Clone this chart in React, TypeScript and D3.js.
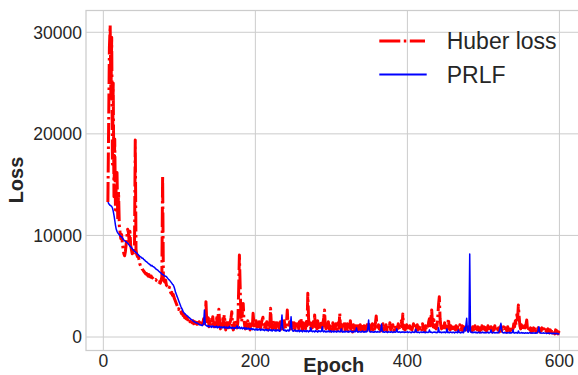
import React from 'react';
import * as d3 from 'd3';

// Loss per epoch, starting at epoch 6, one value per epoch up to epoch 600
const EPOCH_START = 6;

const huberLoss: number[] = [
  13300, 21000, 28500, 30700, 23500, 29500, 17000, 25000, 13800, 19500,
  12500, 15000, 16200, 11500, 14300, 11000, 10300, 9700, 10100, 9300,
  8700, 8200, 8000, 8400, 9100, 9900, 10600, 10300, 9400, 10400,
  9000, 8600, 8200, 8300, 8100, 8900, 19400, 8600, 8100, 7900,
  7900, 7600, 7200, 7000, 6900, 6700, 6600, 6500, 6400, 6300,
  6200, 6250, 6100, 6000, 6150, 5950, 5900, 6000, 5850, 5800,
  5700, 5750, 5600, 5650, 5550, 5500, 5600, 5400, 5450, 5300,
  5600, 5900, 15900, 5700, 5500, 5400, 5600, 5100, 5000, 4900,
  4700, 4900, 4500, 4300, 4400, 4100, 4200, 3900, 3700, 3500,
  3300, 3100, 2900, 2700, 2900, 2600, 2500, 2300, 2400, 2100,
  2200, 1900, 2000, 1800, 1900, 1700, 1600, 1800, 1500, 1700,
  1500, 1400, 1600, 1300, 1500, 1350, 1450, 1250, 1400, 1300,
  1500, 1200, 1350, 1600, 1250, 1400, 1800, 1300, 1500, 3480,
  1600, 1300, 1900, 1000, 1400, 1700, 1100, 1500, 2000, 1300,
  1000, 1600, 1400, 1900, 1100, 2100, 2730, 1400, 800, 1500,
  1300, 1800, 1000, 2170, 1600, 700, 1400, 1100, 1700, 900,
  1300, 1500, 1900, 2490, 1100, 700, 1400, 1000, 1600, 1300,
  900, 1500, 4500, 8080, 5000, 2000, 1500, 2500, 3310, 1700,
  1100, 800, 1400, 1000, 1600, 900, 1300, 700, 1500, 1100,
  900, 2330, 1400, 800, 1200, 1600, 1000, 1300, 700, 1500,
  1100, 900, 1400, 1700, 1940, 1000, 800, 1300, 900, 1500,
  1100, 700, 1400, 1000, 2830, 1300, 800, 1600, 900, 1200,
  1400, 800, 1100, 1670, 900, 1300, 700, 1500, 1000, 800,
  1300, 900, 1600, 1100, 800, 1400, 2660, 1000, 900, 1500,
  1100, 800, 1300, 1700, 900, 1400, 700, 1200, 1600, 900,
  1300, 800, 1500, 1000, 1800, 1100, 700, 1400, 900, 1300,
  800, 1500, 1100, 4300, 1800, 1000, 1400, 800, 1300, 900,
  1500, 1100, 2170, 1000, 1400, 800, 1600, 900, 1300, 700,
  1100, 1500, 900, 1400, 1900, 2660, 1100, 800, 1500, 1000,
  1500, 800, 1100, 600, 1200, 900, 1400, 700, 1000, 800,
  1300, 1100, 700, 1400, 900, 2330, 1000, 600, 1200, 800,
  1100, 1500, 700, 1000, 800, 1300, 600, 1100, 900, 1600,
  800, 1000, 500, 1200, 900, 700, 1100, 800, 1400, 600,
  1000, 800, 1200, 700, 1300, 900, 600, 1100, 800, 1000,
  700, 1200, 900, 1500, 800, 600, 1100, 900, 1300, 700,
  1000, 800, 1400, 2070, 900, 700, 1200, 800, 1000, 600,
  1100, 900, 1300, 700, 1000, 800, 1200, 600, 900, 1100,
  800, 1400, 700, 1000, 900, 1200, 600, 800, 1100, 700,
  1000, 800, 1300, 900, 700, 1100, 1600, 1000, 2270, 800,
  1100, 700, 900, 1200, 800, 1000, 600, 1100, 800, 900,
  700, 1000, 1300, 800, 1100, 600, 900, 1200, 700, 1000,
  800, 1100, 900, 700, 1300, 800, 1000, 600, 1100, 900,
  1200, 800, 1500, 1800, 1100, 1900, 2660, 1300, 1000, 1700,
  900, 1200, 800, 1100, 2000, 3200, 3970, 1800, 1100, 800,
  1300, 1000, 700, 1400, 900, 1100, 800, 1200, 1800, 900,
  700, 1100, 800, 1000, 600, 1200, 900, 700, 1100, 800,
  1000, 600, 900, 1200, 700, 800, 1100, 600, 1000, 800,
  900, 700, 1100, 800, 600, 1000, 700, 900, 800, 600,
  1000, 700, 800, 1100, 600, 900, 700, 1000, 800, 500,
  900, 700, 1100, 600, 800, 1000, 700, 900, 600, 800,
  1100, 700, 900, 600, 1000, 800, 500, 900, 700, 1100,
  600, 800, 1000, 700, 900, 500, 800, 1100, 600, 800,
  700, 1000, 600, 900, 800, 500, 1000, 700, 800, 600,
  900, 700, 1100, 800, 1300, 1000, 1600, 1200, 2200, 1800,
  3150, 2000, 1100, 800, 1200, 700, 1000, 800, 1100, 900,
  1200, 1670, 800, 600, 1000, 700, 900, 500, 800, 600,
  900, 700, 1000, 500, 800, 600, 900, 700, 500, 800,
  600, 900, 700, 500, 800, 600, 400, 700, 500, 800,
  600, 400, 700, 500, 800, 400, 600, 500, 300, 700,
  400, 600, 300, 500, 400,
];

const prlfLoss: number[] = [
  13270, 13150, 13050, 12950, 12900, 12850, 12700, 12400, 12000, 11500,
  11000, 10600, 10400, 10250, 10150, 10050, 9980, 9900, 9880, 9750,
  9650, 9550, 9480, 9420, 9380, 9300, 9250, 9150, 9050, 8950,
  8880, 8780, 8700, 8570, 8520, 8450, 8380, 8300, 8250, 8150,
  8100, 8000, 7950, 7900, 7850, 7750, 7750, 7650, 7600, 7520,
  7450, 7400, 7330, 7250, 7200, 7150, 7080, 7000, 7050, 6950,
  6930, 6850, 6800, 6700, 6650, 6600, 6550, 6480, 6400, 6350,
  6300, 6200, 6150, 6110, 6050, 6000, 5980, 5940, 5850, 5750,
  5650, 5600, 5500, 5400, 5300, 5200, 5120, 4950, 4700, 4400,
  4200, 4000, 3810, 3600, 3400, 3200, 3000, 2850, 2700, 2490,
  2400, 2300, 2250, 2170, 2100, 2050, 1950, 1900, 1840, 1750,
  1700, 1650, 1580, 1520, 1500, 1450, 1400, 1380, 1350, 1300,
  1250, 1180, 1200, 1150, 1120, 1180, 1400, 2660, 1300, 1150,
  1100, 1050, 1120, 1000, 1080, 1050, 950, 1100, 1000, 1050,
  980, 1020, 950, 1080, 900, 1000, 950, 1050, 880, 960,
  1000, 900, 950, 1020, 870, 930, 990, 850, 950, 900,
  1050, 880, 920, 850, 960, 900, 800, 930, 870, 950,
  1100, 850, 900, 1000, 820, 880, 950, 800, 870, 920,
  780, 850, 900, 760, 830, 880, 740, 820, 770, 860,
  720, 800, 750, 690, 780, 700, 820, 680, 750, 720,
  800, 650, 720, 780, 680, 740, 620, 700, 760, 650,
  720, 600, 690, 750, 640, 700, 580, 680, 720, 630,
  700, 580, 650, 720, 620, 680, 560, 650, 1200, 2170,
  900, 650, 700, 600, 680, 560, 640, 700, 580, 650,
  1100, 2000, 800, 620, 560, 640, 700, 580, 620, 550,
  650, 600, 530, 680, 580, 620, 500, 600, 650, 540,
  600, 520, 640, 580, 500, 620, 560, 900, 580, 520,
  600, 560, 500, 640, 550, 580, 480, 620, 540, 600,
  520, 580, 1000, 560, 500, 600, 540, 480, 580, 520,
  600, 500, 560, 620, 480, 540, 580, 500, 560, 520,
  580, 480, 550, 600, 500, 560, 520, 800, 540, 480,
  560, 520, 480, 580, 540, 500, 560, 480, 540, 600,
  500, 560, 480, 520, 580, 500, 540, 900, 560, 480,
  520, 560, 500, 480, 540, 580, 500, 520, 480, 560,
  500, 540, 900, 1670, 600, 520, 480, 540, 500, 460,
  520, 480, 560, 500, 460, 540, 500, 480, 520, 700,
  1280, 560, 480, 520, 460, 500, 540, 480, 440, 520,
  480, 500, 460, 540, 480, 440, 500, 520, 460, 480,
  800, 500, 460, 520, 480, 440, 500, 460, 520, 480,
  440, 500, 460, 480, 520, 440, 480, 500, 460, 420,
  480, 520, 460, 440, 500, 760, 480, 440, 500, 460,
  420, 480, 500, 440, 460, 520, 440, 480, 420, 500,
  460, 440, 480, 700, 460, 500, 440, 420, 480, 460,
  500, 440, 460, 420, 480, 900, 460, 440, 500, 420,
  460, 480, 440, 500, 420, 460, 800, 440, 480, 420,
  460, 500, 440, 420, 480, 460, 400, 460, 500, 440,
  420, 700, 460, 440, 400, 480, 440, 460, 420, 900,
  600, 1200, 1840, 600, 460, 700, 8180, 500, 440, 480,
  420, 460, 440, 500, 420, 460, 400, 440, 480, 420,
  460, 400, 440, 480, 420, 440, 400, 460, 420, 440,
  480, 400, 420, 460, 700, 420, 400, 440, 460, 400,
  420, 440, 400, 460, 420, 600, 900, 1350, 700, 440,
  420, 400, 460, 420, 380, 440, 400, 420, 460, 380,
  420, 400, 440, 700, 400, 380, 420, 440, 400, 380,
  600, 420, 380, 400, 440, 380, 420, 400, 360, 420,
  400, 380, 420, 360, 400, 440, 380, 400, 360, 420,
  380, 400, 360, 420, 380, 400, 650, 1010, 500, 380,
  400, 360, 380, 420, 360, 380, 400, 340, 380, 360,
  400, 340, 360, 380, 320, 360, 340, 380, 320, 340,
  360, 320, 340, 300, 300,
];

const xTicks = [0, 200, 400, 600];
const yTicks = [0, 10000, 20000, 30000];
const seriesNames = ['Huber loss', 'PRLF'];

const FONT = '"Liberation Sans", Arial, "DejaVu Sans", sans-serif';
const TEXT = '#262626';
const GRID = '#cccccc';

export default function App() {
  const W = 578;
  const H = 375;
  const left = 86, right = 582, top = 10.5, bottom = 350.5;
  const x = d3.scaleLinear().domain([-22.8, 629.7]).range([left, right]);
  const y = d3.scaleLinear().domain([-1329, 32145]).range([bottom, top]);
  const line = d3
    .line<number>()
    .x((_, i) => x(EPOCH_START + i))
    .y((d) => y(d));

  return (
    <svg
      width={W}
      height={H}
      style={{ position: 'absolute', left: 0, top: 0, background: '#fff' }}
      fontFamily={FONT}
    >
      <defs>
        <clipPath id="plot">
          <rect x={left} y={top} width={right - left} height={bottom - top} />
        </clipPath>
      </defs>
      <rect x={0} y={0} width={W} height={H} fill="#fff" />
      {xTicks.map((t) => (
        <line key={'gx' + t} x1={x(t)} x2={x(t)} y1={top} y2={bottom} stroke={GRID} strokeWidth={1} />
      ))}
      {yTicks.map((t) => (
        <line key={'gy' + t} x1={left} x2={right} y1={y(t)} y2={y(t)} stroke={GRID} strokeWidth={1} />
      ))}
      <rect x={left} y={top} width={right - left} height={bottom - top} fill="none" stroke={GRID} strokeWidth={1.25} />
      <g clipPath="url(#plot)">
        <path
          d={line(huberLoss) || ''}
          fill="none"
          stroke="#ff0000"
          strokeWidth={3}
          strokeDasharray="20,3.5,2.5,3.5"
          strokeLinejoin="round"
        />
        <path d={line(prlfLoss) || ''} fill="none" stroke="#0000ff" strokeWidth={1.5} strokeLinejoin="round" />
      </g>
      {yTicks.map((t) => (
        <text key={'ty' + t} x={82} y={y(t) + 6.3} textAnchor="end" fontSize={17.5} fill={TEXT}>
          {t}
        </text>
      ))}
      {xTicks.map((t) => (
        <text key={'tx' + t} x={x(t)} y={366.7} textAnchor="middle" fontSize={17.5} fill={TEXT}>
          {t}
        </text>
      ))}
      <text x={333.7} y={371.7} textAnchor="middle" fontSize={20} fontWeight="bold" fill={TEXT}>
        Epoch
      </text>
      <text
        transform="translate(22.7,180) rotate(-90)"
        textAnchor="middle"
        fontSize={20}
        fontWeight="bold"
        fill={TEXT}
      >
        Loss
      </text>
      <line x1={379.3} x2={425} y1={41} y2={41} stroke="#ff0000" strokeWidth={3} strokeDasharray="21,3.5,2.5,3.5" />
      <text x={446.7} y={49.3} fontSize={23} fill={TEXT}>
        {seriesNames[0]}
      </text>
      <line x1={379.3} x2={426.7} y1={74.5} y2={74.5} stroke="#0000ff" strokeWidth={1.8} />
      <text x={446.7} y={83.3} fontSize={23} fill={TEXT}>
        {seriesNames[1]}
      </text>
    </svg>
  );
}
